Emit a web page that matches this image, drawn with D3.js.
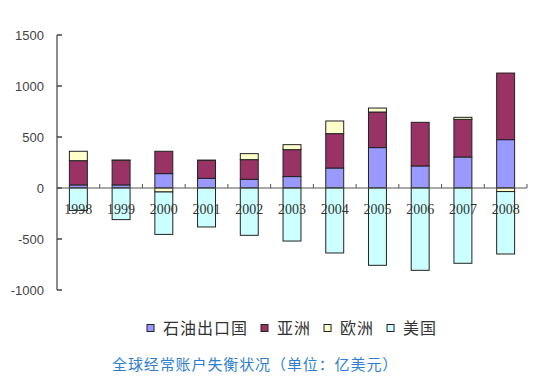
<!DOCTYPE html>
<html><head><meta charset="utf-8">
<script src="https://cdn.jsdelivr.net/npm/d3@7"></script>
<style>body{margin:0;background:#fff;}svg{display:block;}</style>
</head><body>
<svg id="c" width="536" height="384"></svg>
<script>
const years = ["1998","1999","2000","2001","2002","2003","2004","2005","2006","2007","2008"];
const oil    = [30, 30, 141, 95, 85, 112, 196, 396, 216, 304, 474];
const asia   = [238, 241, 219, 176, 193, 264, 337, 349, 428, 369, 653];
const europe = [92, 3, -39, 2, 59, 49, 124, 39, 0, 20, -35];
const us     = [-220, -310, -416, -382, -464, -520, -637, -758, -807, -738, -612];
const seriesNames = ["石油出口国", "亚洲", "欧洲", "美国"];
const seriesColors = ["#9999ff", "#993366", "#ffffcc", "#ccffff"];
const yTicks = [-1000, -500, 0, 500, 1000, 1500];
const caption = "全球经常账户失衡状况（单位：亿美元）";

const keys = ["oil","asia","europe","us"];
const table = years.map((y,i)=>({year:y, oil:oil[i], asia:asia[i], europe:europe[i], us:us[i]}));

const svg = d3.select("#c");
const x = d3.scaleBand().domain(years).range([57, 527]).paddingInner(0.58).paddingOuter(0.29);
const y = d3.scaleLinear().domain([-1000, 1500]).range([290, 35]);

const stack = d3.stack().keys(keys).offset(d3.stackOffsetDiverging);
const stacked = stack(table);

stacked.forEach((s, si) => {
  svg.append("g").selectAll("rect").data(s).join("rect")
    .filter(d => d[1] !== d[0])
    .attr("x", d => x(d.data.year))
    .attr("width", x.bandwidth())
    .attr("y", d => y(Math.max(d[0], d[1])))
    .attr("height", d => Math.abs(y(d[0]) - y(d[1])))
    .attr("fill", seriesColors[si])
    .attr("stroke", "#222")
    .attr("stroke-width", 1);
});

// y axis
const ya = svg.append("g");
ya.append("line").attr("x1",57).attr("x2",57).attr("y1",y(1500)).attr("y2",y(-1000))
  .attr("stroke","#666").attr("stroke-width",1.5);
ya.selectAll("line.t").data(yTicks).join("line").attr("class","t")
  .attr("x1",57).attr("x2",62).attr("y1",d=>y(d)).attr("y2",d=>y(d))
  .attr("stroke","#444").attr("stroke-width",1.5);
ya.selectAll("text").data(yTicks).join("text")
  .attr("x",44).attr("y",d=>y(d)).attr("dy","0.35em").attr("text-anchor","end")
  .attr("font-family","Liberation Sans, Arial, sans-serif").attr("font-size",13).attr("fill","#444")
  .text(d=>d);

// x axis
const xa = svg.append("g");
xa.append("line").attr("x1",57).attr("x2",527).attr("y1",y(0)).attr("y2",y(0))
  .attr("stroke","#555").attr("stroke-width",1.2);
const bounds = years.map((d,i)=> x(d) - x.step()*x.paddingInner()/2 + x.step());
xa.selectAll("line.t").data(bounds).join("line").attr("class","t")
  .attr("x1",d=>d).attr("x2",d=>d).attr("y1",y(0)-4).attr("y2",y(0))
  .attr("stroke","#555").attr("stroke-width",1);
xa.selectAll("text").data(years).join("text")
  .attr("x",d=>x(d)+x.bandwidth()/2).attr("y",y(0)+26)
  .attr("text-anchor","middle")
  .attr("font-family","Liberation Serif, serif").attr("font-size",14).attr("fill","#333")
  .text(d=>d);

// legend
const lg = svg.append("g");
let lx = 147;
seriesNames.forEach((n,i)=>{
  lg.append("rect").attr("x",lx).attr("y",324.5).attr("width",7).attr("height",7)
    .attr("fill",seriesColors[i]).attr("stroke","#222").attr("stroke-width",1);
  const t = lg.append("text").attr("x",lx+16).attr("y",328).attr("dy","0.35em")
    .attr("font-family","Noto Sans CJK SC, sans-serif").attr("font-size",16).attr("letter-spacing","1px")
    .attr("fill","#333").text(n);
  lx = lx + 16 + t.node().getComputedTextLength() + 13;
});

svg.append("text").attr("x",112).attr("y",365).attr("dy","0.35em")
  .attr("font-family","Noto Sans CJK SC, sans-serif").attr("font-size",15).attr("letter-spacing","0.9px")
  .attr("fill","#2f7fd0")
  .text(caption);
</script>
</body></html>
